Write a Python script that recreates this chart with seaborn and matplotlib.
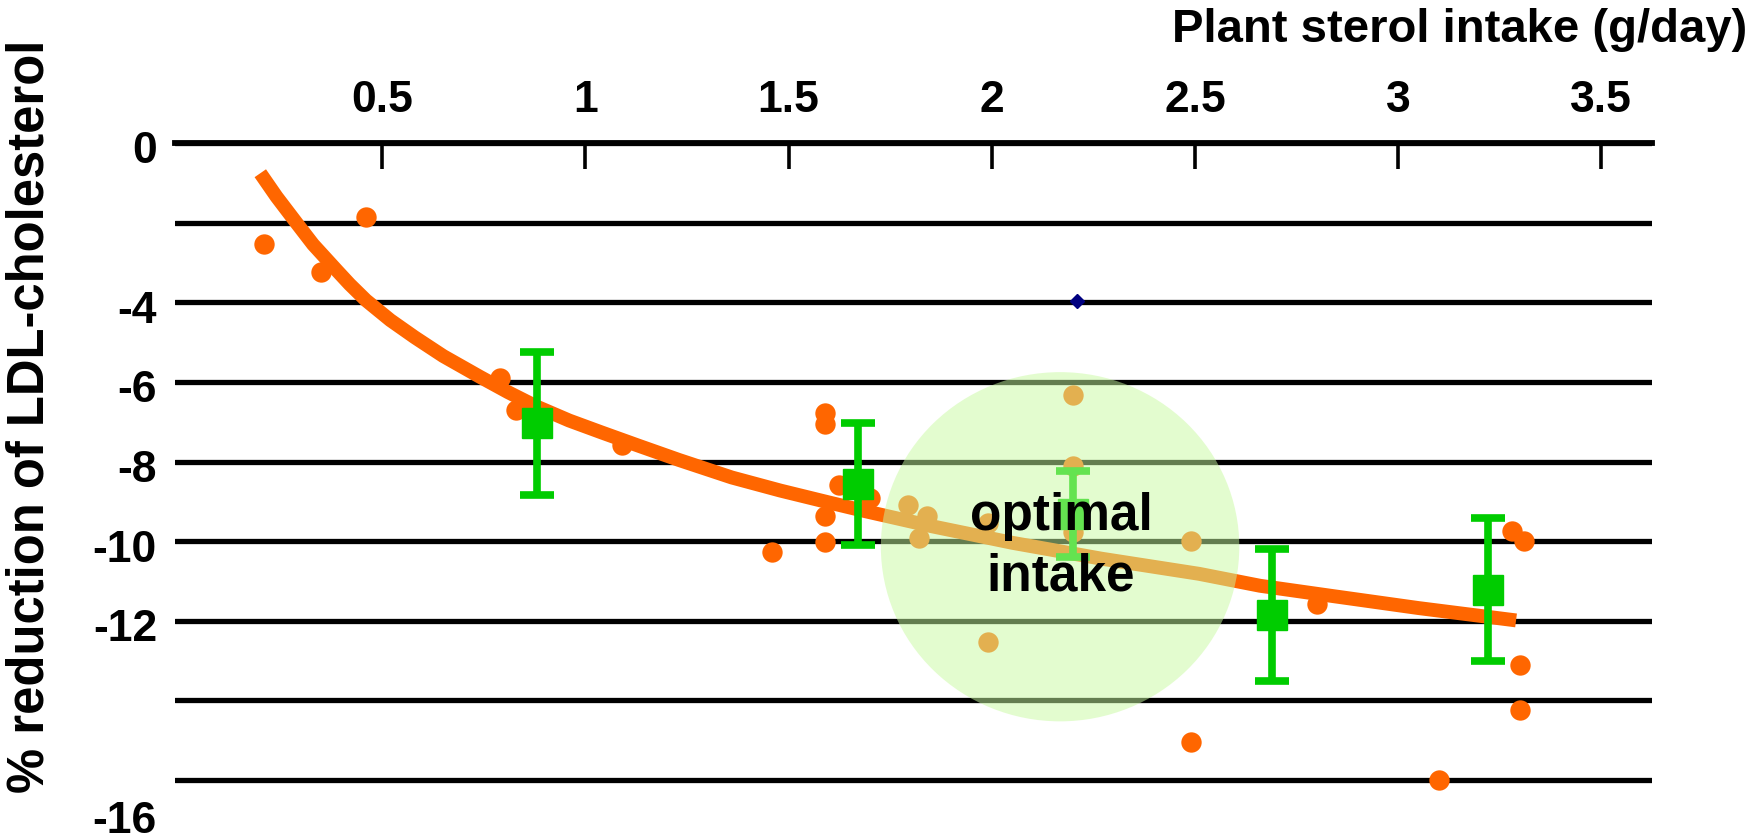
import matplotlib
matplotlib.use("Agg")
import pandas as pd
import seaborn as sns
import matplotlib.pyplot as plt
from matplotlib.patches import Ellipse
from matplotlib.transforms import ScaledTranslation

# individual study results: intake (g/day) and % change of LDL-cholesterol
study_intake = [0.21, 0.35, 0.46, 0.79, 0.83, 1.09, 1.46, 1.59, 1.59, 1.625,
                1.70, 1.59, 1.59, 1.795, 1.84, 1.82, 1.99, 2.20, 2.20, 2.20,
                1.99, 2.49, 2.49, 2.80, 3.10, 3.28, 3.31, 3.30, 3.30]
study_ldl = [-2.54, -3.25, -1.87, -5.91, -6.70, -7.58, -10.28, -6.79, -7.05, -8.58,
             -8.92, -9.36, -10.03, -9.09, -9.38, -9.92, -9.55, -6.34, -8.12, -9.76,
             -12.52, -10.0, -15.04, -11.57, -16.0, -9.74, -10.0, -13.1, -14.23]

# dose groups: mean and error bar
group_intake = [0.88, 1.67, 2.20, 2.69, 3.22]
group_ldl = [-7.04, -8.57, -9.31, -11.85, -11.22]
group_err = [1.80, 1.53, 1.08, 1.65, 1.80]

# trend line
trend_intake = [0.20, 0.24, 0.29, 0.33, 0.39, 0.42, 0.46, 0.52, 0.58, 0.65,
                0.74, 0.81, 0.88, 0.96, 1.04, 1.13, 1.23, 1.36, 1.48, 1.60,
                1.69, 1.85, 2.05, 2.27, 2.51, 2.66, 2.84, 3.05, 3.29]
trend_ldl = [-0.76, -1.35, -2.02, -2.55, -3.22, -3.55, -3.95, -4.45, -4.88, -5.35,
             -5.87, -6.26, -6.62, -6.97, -7.27, -7.60, -7.96, -8.40, -8.73, -9.03,
             -9.25, -9.62, -10.04, -10.44, -10.82, -11.12, -11.38, -11.68, -11.99]

# single marker
extra_intake = [2.21]
extra_ldl = [-3.98]

x_ticks = [0.5, 1, 1.5, 2, 2.5, 3, 3.5]
x_labels = ['0.5', '1', '1.5', '2', '2.5', '3', '3.5']
y_ticks = [0, -2, -4, -6, -8, -10, -12, -14, -16]
y_labels = ['0', '', '-4', '-6', '-8', '-10', '-12', '', '-16']

sns.set_theme(style='white')
plt.rcParams['font.family'] = ['Liberation Sans', 'DejaVu Sans']
plt.rcParams['font.weight'] = 'bold'
plt.rcParams['text.color'] = 'black'
plt.rcParams['xtick.color'] = 'black'
plt.rcParams['ytick.color'] = 'black'
plt.rcParams['xtick.labelcolor'] = 'black'
plt.rcParams['ytick.labelcolor'] = 'black'

orange = '#ff6600'
green = '#00cc00'

fig = plt.figure(figsize=(17.53, 8.40), dpi=100)
ax = fig.add_axes([0.0998, 0.0571, 0.8427, 0.7727])

studies = pd.DataFrame({'intake': study_intake, 'ldl': study_ldl})
trend = pd.DataFrame({'intake': trend_intake, 'ldl': trend_ldl})

sns.lineplot(data=trend, x='intake', y='ldl', sort=False, estimator=None,
             color=orange, lw=10, solid_capstyle='butt', solid_joinstyle='round',
             zorder=2, ax=ax)
sns.scatterplot(data=studies, x='intake', y='ldl', color=orange, s=215,
                linewidth=0, zorder=3, clip_on=False, ax=ax)
ax.errorbar(group_intake, group_ldl, yerr=group_err, fmt='s', color=green,
            ms=21, elinewidth=5.5, capsize=12, capthick=5.5, zorder=4)
ax.plot(extra_intake, extra_ldl, 'D', color='#000080', ms=7, zorder=4)

# highlighted zone
ax.add_patch(Ellipse((2.168, -10.14), 0.882, 8.77, facecolor=(200/255, 250/255, 160/255),
                     edgecolor='none', alpha=0.5, zorder=5))
ax.text(2.17, -10.14, 'optimal\nintake', ha='center', va='center', fontsize=37,
        fontweight='bold', color='black', zorder=6, linespacing=1.3)

ax.set_xlim(-0.01, 3.625)
ax.set_ylim(-16.3, 0)
ax.xaxis.tick_top()
ax.set_xticks(x_ticks)
ax.set_xticklabels(x_labels)
ax.set_yticks(y_ticks)
ax.set_yticklabels(y_labels)
ax.tick_params(axis='x', direction='in', length=19, width=2.6, color='black',
               labelsize=32, pad=16, top=True, bottom=False)
ax.tick_params(axis='y', length=0, labelsize=32, pad=13)

# y labels sit a little below their lines, the -16 one a whole step lower
for lab in ax.get_yticklabels():
    shift = -0.37 if lab.get_text() == '-16' else -0.045
    lab.set_transform(lab.get_transform() + ScaledTranslation(0, shift, fig.dpi_scale_trans))
for lab in ax.get_xticklabels() + ax.get_yticklabels():
    lab.set_fontweight('bold')
    lab.set_color('black')

ax.yaxis.grid(True, color='black', lw=3.8)
ax.set_axisbelow(True)
for side in ['left', 'right', 'bottom']:
    ax.spines[side].set_visible(False)
ax.spines['top'].set_linewidth(4.2)
ax.spines['top'].set_color('black')
ax.set_xlabel('')
ax.set_ylabel('')

fig.text(0.9966, 0.964, 'Plant sterol intake (g/day)', ha='right', va='center',
         fontsize=34, fontweight='bold', color='black')
fig.text(0.017, 0.504, '% reduction of LDL-cholesterol', rotation=90,
         ha='center', va='center', fontsize=36.5, fontweight='bold', color='black')

fig.savefig('out.png', dpi=100)
